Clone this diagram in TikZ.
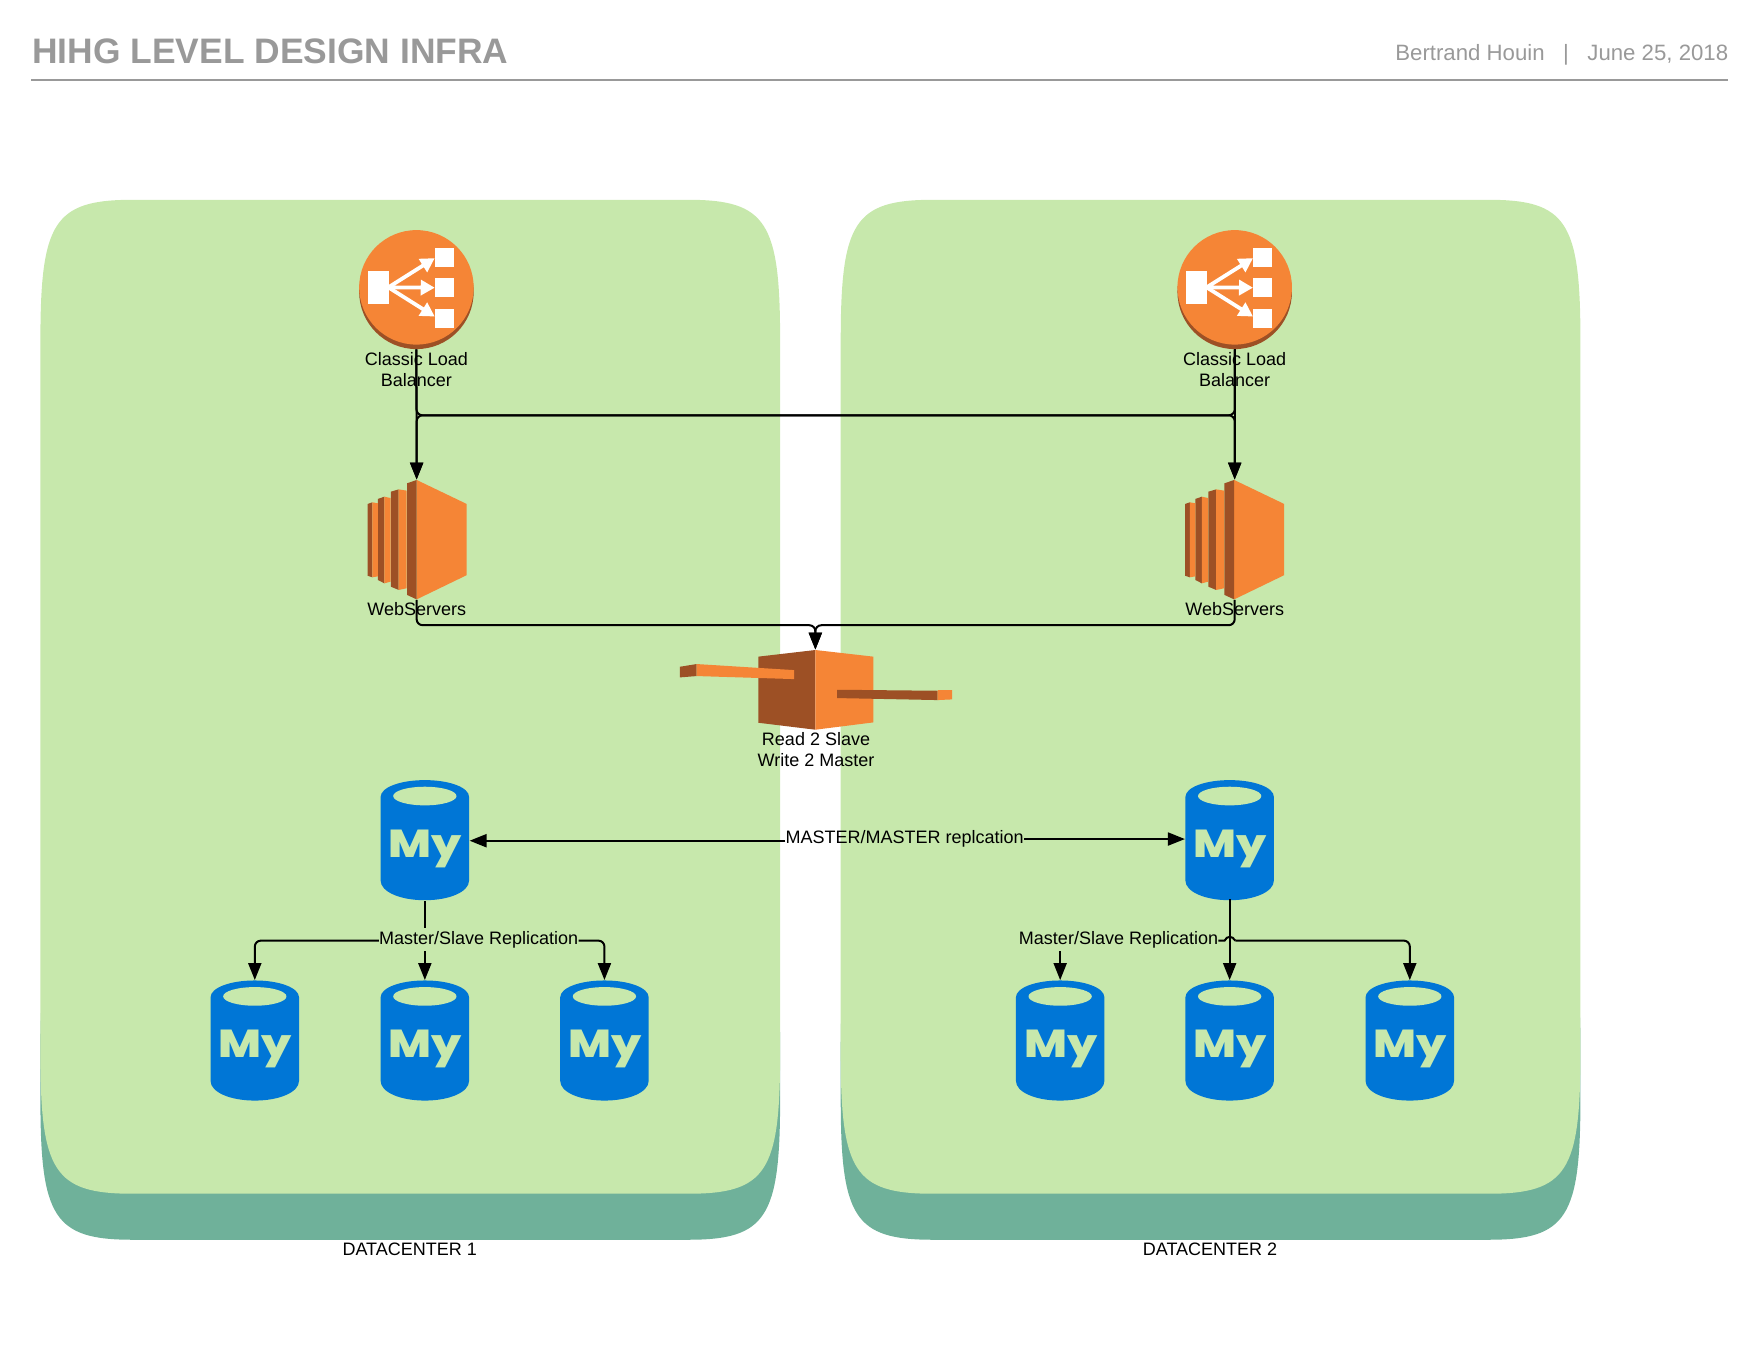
\documentclass[tikz,border=0pt]{standalone}
\usepackage{fontspec}
\setmainfont{Liberation Sans}
\newfontfamily\logofont{Poppins ExtraBold}
\usetikzlibrary{arrows.meta}
\definecolor{panelgreen}{HTML}{C7E8AC}
\definecolor{panelbase}{HTML}{6FB19A}
\definecolor{awsorange}{HTML}{F58536}
\definecolor{awsdark}{HTML}{9D5025}
\definecolor{dbblue}{HTML}{0076D6}
\definecolor{headgrey}{HTML}{999999}
\def\U{0.56122pt}
\tikzset{
  conn/.style={draw=black,line width=1pt,rounded corners=3pt},
  connarrow/.style={conn,-{Triangle[length=8.5pt,width=6.5pt]}},
  lab/.style={font=\fontsize{9}{10.7}\selectfont,text=black,align=center,inner sep=0pt},
  slot/.style={inner sep=0pt,minimum width=#1*\U},
  lbarrow/.style={draw=white,line width=1.9pt,-{Triangle[length=7pt,width=7.5pt]}}
}
\newcommand{\panelpath}[4]{(#1,#2+125) .. controls (#1,#2+20) and (#1+12,#2) .. (#1+82,#2) -- (#3-82,#2) .. controls (#3-12,#2) and (#3,#2+20) .. (#3,#2+125) -- (#3,#4-125) .. controls (#3,#4-20) and (#3-12,#4) .. (#3-82,#4) -- (#1+82,#4) .. controls (#1+12,#4) and (#1,#4-20) .. (#1,#4-125) -- cycle}
\newcommand{\dcpanel}[2]{%
  \fill[panelbase] \panelpath{#1}{810}{#2}{1104.5};
  \fill[panelgreen] \panelpath{#1}{178}{#2}{1063.5};}
\newcommand{\lbicon}[2]{%
  \begin{scope}[shift={(#1,#2)}]
    \fill[awsdark] (0,4) circle [x radius=51,y radius=51];
    \fill[awsorange] (0,0) circle [x radius=51,y radius=51];
    \fill[white] (-43.4,-14.9) rectangle (-24.4,15.1);
    \fill[white] (16.3,-35.3) rectangle (33.3,-18.4);
    \fill[white] (16.3,-8) rectangle (33.3,9);
    \fill[white] (16.3,19) rectangle (33.3,36);
    \draw[lbarrow] (-25,0) -- (16.3,-26);
    \draw[lbarrow] (-25,0) -- (16.3,0.3);
    \draw[lbarrow] (-25,0) -- (16.3,26);
  \end{scope}}
\newcommand{\ectwo}[2]{%
  \begin{scope}[shift={(#1,#2)}]
    \fill[awsorange] (0,-53.4) -- (44.6,-32) -- (44.6,31.4) -- (0,53) -- cycle;
    \fill[awsdark] (0,-53.4) -- (-8.6,-50.4) -- (-8.6,49) -- (0,53) -- cycle;
    \fill[awsdark] (-22.9,-43) -- (-16,-45) -- (-16,44.6) -- (-22.9,41.7) -- cycle;
    \fill[awsorange] (-16,-45) -- (-8.9,-43.9) -- (-8.9,43.1) -- (-16,44.6) -- cycle;
    \fill[awsdark] (-34.5,-36.5) -- (-28.8,-38.5) -- (-28.8,38.7) -- (-34.5,35.7) -- cycle;
    \fill[awsorange] (-28.8,-38.5) -- (-23.2,-37.3) -- (-23.2,37.2) -- (-28.8,38.7) -- cycle;
    \fill[awsdark] (-43.7,-32) -- (-39.5,-33.5) -- (-39.5,33.3) -- (-43.7,31.9) -- cycle;
    \fill[awsorange] (-39.5,-33.5) -- (-34.5,-32.6) -- (-34.5,32.5) -- (-39.5,33.3) -- cycle;
  \end{scope}}
\newcommand{\dbcyl}[2]{%
  \begin{scope}[shift={(#1,#2)}]
    \fill[dbblue] (-39.4,-38.5) .. controls (-39.4,-47) and (-22,-53.5) .. (0,-53.5)
      .. controls (22,-53.5) and (39.4,-47) .. (39.4,-38.5) -- (39.4,36)
      .. controls (39.4,46) and (22,53.5) .. (0,53.5)
      .. controls (-22,53.5) and (-39.4,46) .. (-39.4,36) -- cycle;
    \fill[panelgreen] (0,-39.3) circle [x radius=28.2,y radius=8.3];
    \node[inner sep=0pt,anchor=base,text=panelgreen,xscale=1.18] at (0.5,15.5) {\logofont\fontsize{19.5}{20}\selectfont My};
  \end{scope}}
\begin{document}
\begin{tikzpicture}[x=0.56122pt,y=-0.56122pt]
\useasboundingbox (0,0) rectangle (1568,1211.6);
% header
\node[anchor=base west,inner sep=0pt,text=headgrey,font=\fontsize{17.7}{20}\selectfont\bfseries] (title) at (28.5,56.5) {HIHG LEVEL DESIGN INFRA};
\node[anchor=base east,inner sep=0pt,text=headgrey,font=\fontsize{11.1}{13}\selectfont] (author) at (1540,53.5) {Bertrand Houin\ \ \ |\ \ \ June 25, 2018};
\coordinate (hl) at (28,71);
\coordinate (hr) at (1539.3,71);
\draw[headgrey,line width=1pt] (hl) -- (hr);
% panels
\dcpanel{36}{695}
\dcpanel{749}{1408}
\node[lab,font=\fontsize{9}{10}\selectfont] (dc1) at (365,1112.7) {DATACENTER 1};
\node[lab,font=\fontsize{9}{10}\selectfont] (dc2) at (1078,1112.7) {DATACENTER 2};
% icons
\lbicon{371}{256}
\lbicon{1100}{256}
\ectwo{371.2}{481}
\ectwo{1099.5}{481}
% proxy
\fill[awsdark] (726.4,579.1) -- (675.6,585) -- (675.6,643.9) -- (726.4,650.1) -- cycle;
\fill[awsorange] (726.4,579.1) -- (778,585) -- (778,643.6) -- (726.4,650.1) -- cycle;
\fill[awsdark] (605.8,594) -- (620.7,591.6) -- (620.7,602.3) -- (605.8,603.5) -- cycle;
\fill[awsorange] (620.7,591.6) -- (707.4,597) -- (707.4,605) -- (620.7,602.3) -- cycle;
\fill[awsdark] (745.7,614.5) -- (835.4,615.4) -- (835.4,623.7) -- (745.7,621.9) -- cycle;
\fill[awsorange] (835.4,614.8) -- (848.2,614.8) -- (848.2,623.1) -- (835.4,623.7) -- cycle;
% databases
\dbcyl{378.5}{748.5}
\dbcyl{1095.5}{748.5}
\dbcyl{227}{927}
\dbcyl{378.5}{927}
\dbcyl{538.5}{927}
\dbcyl{944.5}{927}
\dbcyl{1095.5}{927}
\dbcyl{1256}{927}
% anchor nodes for connectors
\node[slot=102,minimum height=106*\U] (lb1) at (371,258) {};
\node[slot=102,minimum height=106*\U] (lb2) at (1100,258) {};
\node[slot=89,minimum height=106.4*\U] (ec1) at (371.2,480.8) {};
\node[slot=89,minimum height=106.4*\U] (ec2) at (1100,480.8) {};
\node[slot=172,minimum height=71*\U] (proxy) at (726.4,614.6) {};
\node[slot=79,minimum height=107*\U] (m1) at (378.5,749) {};
\node[slot=79,minimum height=107*\U] (m2) at (1095.5,747.5) {};
\node[slot=79,minimum height=107*\U] (s1) at (227,927) {};
\node[slot=79,minimum height=107*\U] (s2) at (378.5,927) {};
\node[slot=79,minimum height=107*\U] (s3) at (538.5,927) {};
\node[slot=79,minimum height=107*\U] (s4) at (944.5,927) {};
\node[slot=79,minimum height=107*\U] (s5) at (1095.5,927) {};
\node[slot=79,minimum height=107*\U] (s6) at (1256,927) {};
\coordinate (h1) at (371.2,370);
\coordinate (h2) at (1100,370);
\coordinate (w3) at (726.4,557);
% connectors
\draw[connarrow] (lb1.south) -- (ec1.north);
\draw[connarrow] (lb2.south) -- (ec2.north);
\draw[connarrow] (lb1.south) |- (h2) -- (ec2.north);
\draw[connarrow] (lb2.south) |- (h1) -- (ec1.north);
\draw[connarrow] (ec1.south) |- (w3) -- (proxy.north);
\draw[connarrow] (ec2.south) |- (w3) -- (proxy.north);
% replication labels
\node[lab] (mm) at (806,747.3) {MASTER/MASTER replcation};
\node[lab,minimum height=20*\U] (msa) at (426.5,837) {Master/Slave Replication};
\node[lab,minimum height=20*\U] (msb) at (996.5,837) {Master/Slave Replication};
\draw[connarrow] (mm.west |- m1.west) -- (m1.east);
\draw[connarrow] (mm.east |- m2.east) -- (m2.west);
\coordinate (a1) at (msa.west |- 0,838);
\coordinate (a2) at (msa.east |- 0,838);
\coordinate (b1) at (msb.east |- 0,838);
\coordinate (hop1) at (1091,838);
\coordinate (hop2) at (1100.5,838);
\draw[conn] (m1.south) -- (m1.south |- msa.north);
\draw[connarrow] (s2.north |- msa.south) -- (s2.north);
\draw[connarrow] (a1) -| (s1.north);
\draw[connarrow] (a2) -| (s3.north);
\draw[connarrow] (m2.south) -- (s5.north);
\draw[connarrow] (s4.north |- msb.south) -- (s4.north);
\draw[line width=1pt] (b1) -- (hop1) .. controls (1093,833.5) and (1098,833.5) .. (hop2);
\draw[connarrow] (hop2) -| (s6.north);
% icon labels
\node[lab] (t1) at (371,329) {Classic Load\\Balancer};
\node[lab] (t2) at (1100,329) {Classic Load\\Balancer};
\node[lab] (t3) at (371.3,542.7) {WebServers};
\node[lab] (t4) at (1100,542.7) {WebServers};
\node[lab] (t5) at (727,668) {Read 2 Slave\\Write 2 Master};
\end{tikzpicture}
\end{document}
